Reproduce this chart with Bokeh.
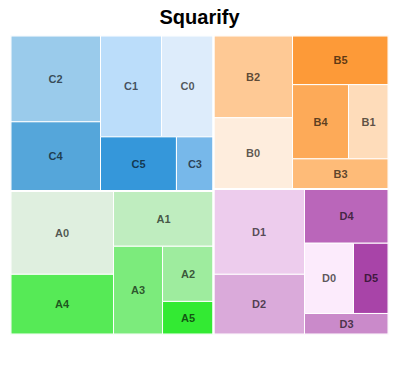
from bokeh.plotting import figure
from bokeh.models import Range1d, ColumnDataSource
from bokeh.embed import file_html
from bokeh.resources import INLINE
from bokeh.core.properties import value

# ---- data (relative sizes) ----
groups = ["A", "B", "C", "D"]
a_names = ["A0", "A1", "A2", "A3", "A4", "A5"]
a_values = [85.5, 55.0, 28.0, 43.1, 61.8, 16.8]
b_names = ["B0", "B1", "B2", "B3", "B4", "B5"]
b_values = [56.1, 29.6, 64.8, 28.8, 41.4, 47.0]
c_names = ["C0", "C1", "C2", "C3", "C4", "C5"]
c_values = [52.5, 61.6, 77.4, 20.0, 62.1, 41.0]
d_names = ["D0", "D1", "D2", "D3", "D4", "D5"]
d_values = [34.3, 77.4, 54.6, 17.6, 45.4, 24.5]

a_colors = ["#DFEFDF", "#BFEDBF", "#9EEC9E", "#7CEB7C", "#56EA56", "#33EA33"]
b_colors = ["#FEEDDD", "#FEDCBA", "#FEC995", "#FEBB78", "#FDAA58", "#FD9A38"]
c_colors = ["#DDECFB", "#BBDDFA", "#9ACBEB", "#77B8EA", "#55A6DA", "#3597DA"]
d_colors = ["#FCEBFC", "#EDCCED", "#DAAADA", "#CA8ACA", "#BA66BA", "#A844A8"]

W, H = 378.0, 299.0


# ---- squarify layout ----
def normalize(sizes, dx, dy):
    tot = sum(sizes)
    return [s * dx * dy / tot for s in sizes]


def layoutrow(sizes, x, y, dx, dy):
    width = sum(sizes) / dy
    out = []
    for s in sizes:
        out.append((x, y, width, s / width))
        y += s / width
    return out


def layoutcol(sizes, x, y, dx, dy):
    height = sum(sizes) / dx
    out = []
    for s in sizes:
        out.append((x, y, s / height, height))
        x += s / height
    return out


def layout(sizes, x, y, dx, dy):
    return layoutrow(sizes, x, y, dx, dy) if dx >= dy else layoutcol(sizes, x, y, dx, dy)


def leftover(sizes, x, y, dx, dy):
    if dx >= dy:
        w = sum(sizes) / dy
        return x + w, y, dx - w, dy
    h = sum(sizes) / dx
    return x, y + h, dx, dy - h


def worst(sizes, x, y, dx, dy):
    return max(max(r[2] / r[3], r[3] / r[2]) for r in layout(sizes, x, y, dx, dy))


def squarify(sizes, x, y, dx, dy):
    if not sizes:
        return []
    if len(sizes) == 1:
        return layout(sizes, x, y, dx, dy)
    i = 1
    while i < len(sizes) and worst(sizes[:i], x, y, dx, dy) >= worst(sizes[:i + 1], x, y, dx, dy):
        i += 1
    cur, rem = sizes[:i], sizes[i:]
    lx, ly, ldx, ldy = leftover(cur, x, y, dx, dy)
    return layout(cur, x, y, dx, dy) + squarify(rem, lx, ly, ldx, ldy)


group_data = {
    "A": (a_names, a_values, a_colors),
    "B": (b_names, b_values, b_colors),
    "C": (c_names, c_values, c_colors),
    "D": (d_names, d_values, d_colors),
}

totals = {g: sum(group_data[g][1]) for g in groups}
order = sorted(groups, key=lambda g: -totals[g])
grects = squarify(normalize([totals[g] for g in order], W, H), 0, 0, W, H)

cx, cy, cw, ch, cc, cn = [], [], [], [], [], []
gx, gy, gw, gh = [], [], [], []
for g, (x, y, dx, dy) in zip(order, grects):
    gx.append(x + dx / 2); gy.append(y + dy / 2); gw.append(dx); gh.append(dy)
    names, vals, cols = group_data[g]
    idx = sorted(range(len(vals)), key=lambda k: -vals[k])
    rects = squarify(normalize([vals[k] for k in idx], dx, dy), x, y, dx, dy)
    for k, (rx, ry, rdx, rdy) in zip(idx, rects):
        cx.append(rx + rdx / 2); cy.append(ry + rdy / 2)
        cw.append(rdx); ch.append(rdy)
        cc.append(cols[k]); cn.append(names[k])

src = ColumnDataSource(dict(x=cx, y=cy, w=cw, h=ch, color=cc, name=cn))
gsrc = ColumnDataSource(dict(x=gx, y=gy, w=gw, h=gh))

p = figure(width=398, height=348, output_backend="svg", toolbar_location=None,
           x_range=Range1d(0, W), y_range=Range1d(H, 0),
           min_border_left=10, min_border_right=10, min_border_bottom=14, min_border_top=0,
           title="Squarify")
p.title.align = "center"
p.title.vertical_align = "top"
p.title.text_font = "Liberation Sans"
p.title.text_font_size = "20px"
p.title.text_font_style = "bold"
p.title.text_color = "#000000"
p.title.offset = 0
p.title.standoff = 11
p.axis.visible = False
p.grid.visible = False
p.outline_line_color = None

p.rect(x="x", y="y", width="w", height="h", source=src, fill_color="color",
       line_color="white", line_width=1)
p.rect(x="x", y="y", width="w", height="h", source=gsrc, fill_color=None,
       line_color="white", line_width=2)
p.text(x="x", y="y", text="name", source=src, text_align="center", text_baseline="middle",
       text_font=value("Liberation Sans"), text_font_size="11px", text_font_style="bold",
       text_color="black", text_alpha=0.65)

open("out.html", "w").write(file_html(p, INLINE))
